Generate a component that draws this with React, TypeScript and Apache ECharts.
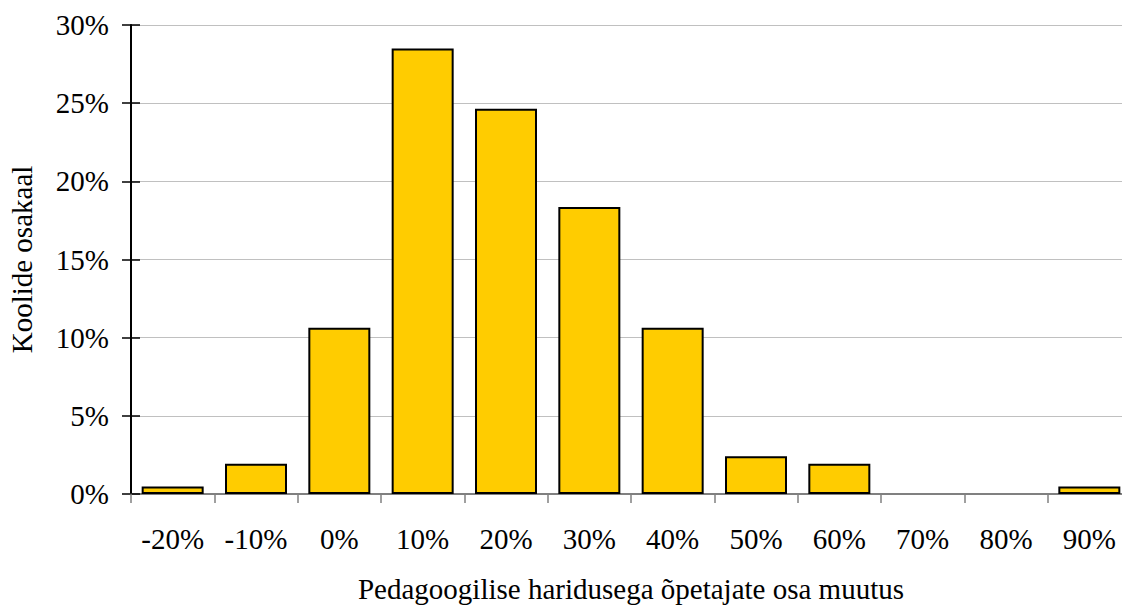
import React, { useEffect, useRef } from "react";
import * as echarts from "echarts";

const categories = ["-20%", "-10%", "0%", "10%", "20%", "30%", "40%", "50%", "60%", "70%", "80%", "90%"];
const shares = [0.48, 1.93, 10.63, 28.5, 24.64, 18.36, 10.63, 2.42, 1.93, 0, 0, 0.48];
const yTicks = { min: 0, max: 30, interval: 5 };
const xTitle = "Pedagoogilise haridusega õpetajate osa muutus";
const yTitle = "Koolide osakaal";

const FONT = "'Liberation Serif', 'Times New Roman', serif";
const FS = 29;

export default function App() {
  const ref = useRef<HTMLDivElement>(null);
  useEffect(() => {
    if (!ref.current) return;
    const chart = echarts.init(ref.current, null, { renderer: "svg" });
    chart.setOption({
      animation: false,
      backgroundColor: "#ffffff",
      textStyle: { fontFamily: FONT, color: "#000" },
      grid: { left: 131, right: 9, top: 25, bottom: 111, containLabel: false, outerBoundsMode: "none" },
      xAxis: [
        {
          type: "category",
          data: categories,
          position: "bottom",
          name: xTitle,
          nameLocation: "middle",
          nameGap: 80,
          nameTextStyle: { fontFamily: FONT, fontSize: FS, color: "#000" },
          axisLine: { show: true, lineStyle: { color: "#808080", width: 2 } },
          axisTick: { show: true, length: 9, alignWithLabel: false, lineStyle: { color: "#808080", width: 1.5 } },
          axisLabel: { fontFamily: FONT, fontSize: FS, color: "#000", margin: 30, interval: 0 },
          splitLine: { show: false },
        },
        {
          type: "category",
          data: categories,
          position: "top",
          axisLine: { show: true, lineStyle: { color: "#808080", width: 2 } },
          axisTick: { show: false },
          axisLabel: { show: false },
          splitLine: { show: false },
        },
      ],
      yAxis: [
        {
          type: "value",
          min: yTicks.min,
          max: yTicks.max,
          interval: yTicks.interval,
          position: "left",
          name: yTitle,
          nameLocation: "middle",
          nameGap: 95,
          nameRotate: 90,
          nameTextStyle: { fontFamily: FONT, fontSize: FS, color: "#000" },
          axisLine: { show: true, lineStyle: { color: "#000", width: 2 } },
          axisTick: { show: true, length: 9, lineStyle: { color: "#000", width: 1.5 } },
          axisLabel: { fontFamily: FONT, fontSize: FS, color: "#000", margin: 22, formatter: "{value}%" },
          splitLine: { show: true, lineStyle: { color: "#c0c0c0", width: 1 } },
        },
        {
          type: "value",
          min: yTicks.min,
          max: yTicks.max,
          interval: yTicks.interval,
          position: "left",
          offset: 0,
          axisLine: { show: false },
          axisTick: { show: true, inside: true, length: 9, lineStyle: { color: "#000", width: 1.5 } },
          axisLabel: { show: false },
          splitLine: { show: false },
        },
      ],
      series: [
        {
          type: "bar",
          xAxisIndex: 0,
          yAxisIndex: 0,
          barWidth: 62,
          data: shares.map((v) =>
            v === 0 ? { value: v, itemStyle: { borderWidth: 0 } } : v
          ),
          itemStyle: { color: "#FFCC00", borderColor: "#000", borderWidth: 2 },
        },
      ],
    });
    return () => chart.dispose();
  }, []);
  return (
    <div style={{ position: "absolute", left: 0, top: 0, width: 1122, height: 605, overflow: "hidden", background: "#fff" }}>
      <div ref={ref} style={{ width: 1140, height: 605 }} />
    </div>
  );
}
